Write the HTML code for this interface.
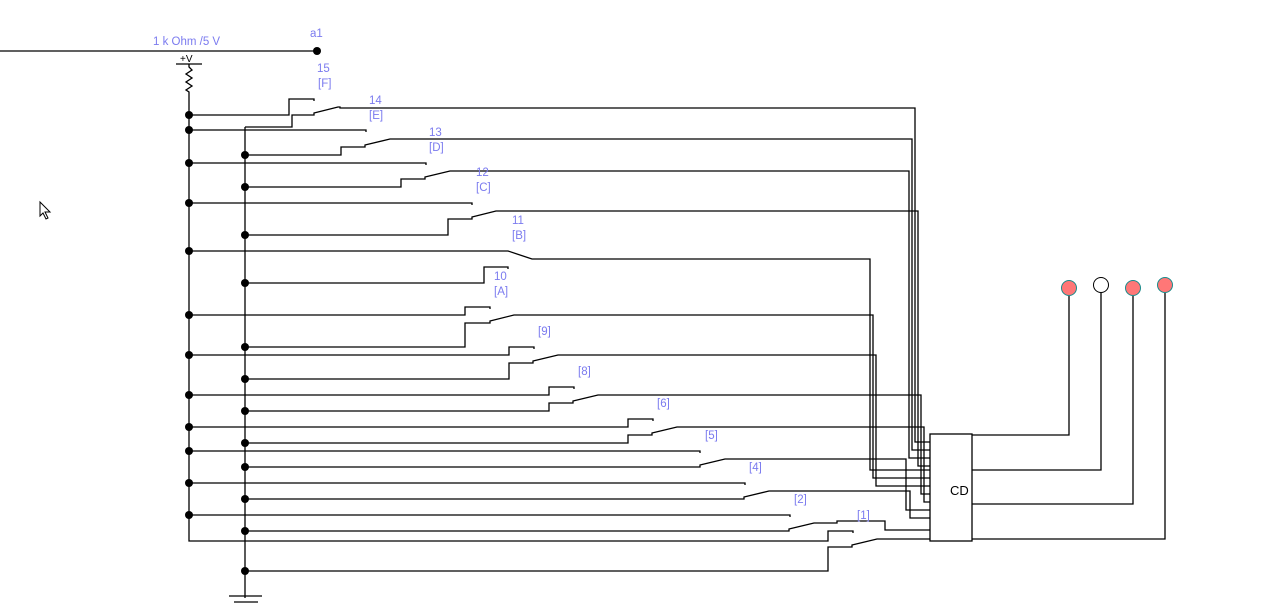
<!DOCTYPE html>
<html><head><meta charset="utf-8"><style>
html,body{margin:0;padding:0;background:#fff;width:1275px;height:603px;overflow:hidden}
svg{display:block}
text{font-family:"Liberation Sans",sans-serif;font-size:11.5px;fill:#7b7bef}
</style></head><body>
<svg width="1275" height="603" viewBox="0 0 1275 603" xmlns="http://www.w3.org/2000/svg">
<g stroke="#000" stroke-width="1.3" fill="none">
<path d="M0 51H317"/>
<path d="M176 64H202"/>
<path d="M189 64V67l3 3l-6 4l6 4l-6 4l6 4l-6 4l3 2V541H828V531H853V533"/>
<path d="M245 127V598"/>
<path d="M229 596H262M234 602H258"/>
<path d="M189 115H289V99H314V101"/>
<path d="M245 127H292V115H314V113L338 107H340V108H915V442H930"/>
<path d="M189 130H366V132"/>
<path d="M245 155H341V147H365V145L390 139H392H912V450H930"/>
<path d="M189 163H426V165"/>
<path d="M245 187H401V179H425V177L450 171H452H909V458H930"/>
<path d="M189 203H472V205"/>
<path d="M245 235H448V219H472V217L496 211H498H918V466H930"/>
<path d="M189 251H508L532 259H870V470H930"/>
<path d="M245 283H484V267H508V269"/>
<path d="M189 315H465V307H490V309"/>
<path d="M245 347H465V323H490V321L514 315H873V478H930"/>
<path d="M189 355H509V347H534V349"/>
<path d="M245 379H509V363H533V361L558 355H876V486H930"/>
<path d="M189 395H549V387H574V389"/>
<path d="M245 411H549V403H573V401L598 395H921V494H930"/>
<path d="M189 427H628V419H653V421"/>
<path d="M245 443H628V435H652V433L677 427H924V502H930"/>
<path d="M189 451H700V453"/>
<path d="M245 467H700V465L725 459H906V510H930"/>
<path d="M189 483H745V485"/>
<path d="M245 499H744V497L769 491H910V518H930"/>
<path d="M189 515H790V517"/>
<path d="M245 531H789V529L814 523H837V521H885V530H930"/>
<path d="M245 571H828V547H852V545L877 539H930"/>
<rect x="930" y="434" width="42" height="107" fill="#fff"/>
<path d="M972 435H1069V296M972 470H1101V293M972 504H1133V296M972 539H1165V293"/>
</g>
<text x="950" y="495" style="fill:#000;font-size:13px">CD</text>
<g stroke="#1a8a8a" stroke-width="1">
<circle cx="1069" cy="288" r="7.5" fill="#f77"/>
<circle cx="1133" cy="288" r="7.5" fill="#f77"/>
<circle cx="1165" cy="285" r="7.5" fill="#f77"/>
</g>
<circle cx="1101" cy="285" r="7.5" fill="#fff" stroke="#000" stroke-width="1"/>
<g fill="#000">
<circle cx="317" cy="51" r="4"/>
<circle cx="189" cy="115" r="4"/><circle cx="189" cy="130" r="4"/><circle cx="189" cy="163" r="4"/>
<circle cx="189" cy="203" r="4"/><circle cx="189" cy="251" r="4"/><circle cx="189" cy="315" r="4"/>
<circle cx="189" cy="355" r="4"/><circle cx="189" cy="395" r="4"/><circle cx="189" cy="427" r="4"/>
<circle cx="189" cy="451" r="4"/><circle cx="189" cy="483" r="4"/><circle cx="189" cy="515" r="4"/>
<circle cx="245" cy="155" r="4"/><circle cx="245" cy="187" r="4"/><circle cx="245" cy="235" r="4"/>
<circle cx="245" cy="283" r="4"/><circle cx="245" cy="347" r="4"/><circle cx="245" cy="379" r="4"/>
<circle cx="245" cy="411" r="4"/><circle cx="245" cy="443" r="4"/><circle cx="245" cy="467" r="4"/>
<circle cx="245" cy="499" r="4"/><circle cx="245" cy="531" r="4"/><circle cx="245" cy="571" r="4"/>
</g>
<text x="180" y="62" style="fill:#000;font-size:10px">+V</text>
<text x="153" y="45">1 k Ohm /5 V</text>
<text x="310" y="37">a1</text>
<text x="317" y="72">15</text><text x="318" y="87">[F]</text>
<text x="369" y="104">14</text><text x="369" y="119">[E]</text>
<text x="429" y="136">13</text><text x="429" y="151">[D]</text>
<text x="476" y="176">12</text><text x="476" y="191">[C]</text>
<text x="512" y="224">11</text><text x="512" y="239">[B]</text>
<text x="494" y="280">10</text><text x="494" y="295">[A]</text>
<text x="538" y="335">[9]</text>
<text x="578" y="375">[8]</text>
<text x="657" y="407">[6]</text>
<text x="705" y="439">[5]</text>
<text x="749" y="471">[4]</text>
<text x="794" y="503">[2]</text>
<text x="857" y="519">[1]</text>
<path d="M40 202V216l3-3l3 6l2-1l-3-6h5z" fill="#fff" stroke="#000" stroke-width="1"/>
</svg>
</body></html>
